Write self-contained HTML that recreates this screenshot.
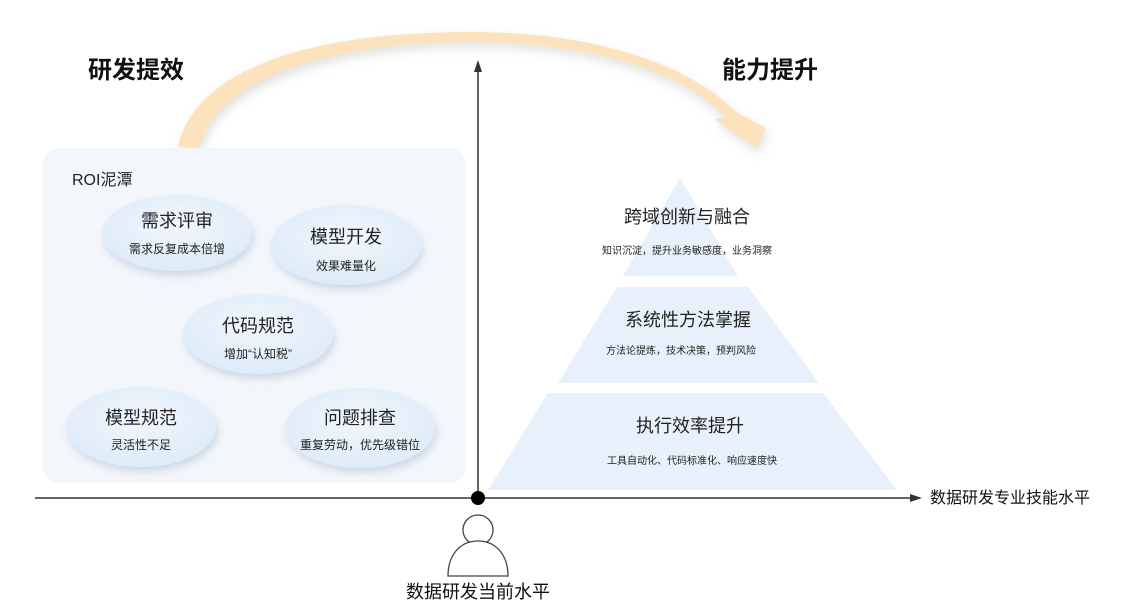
<!DOCTYPE html>
<html><head><meta charset="utf-8"><style>
body{margin:0;background:#fff;}
svg{display:block;font-family:"Liberation Sans","Noto Sans CJK SC",sans-serif;}
</style></head><body>
<svg width="1140" height="610" viewBox="0 0 1140 610">
<defs>
<filter id="sh" x="-30%" y="-30%" width="160%" height="170%"><feDropShadow dx="2" dy="5" stdDeviation="4" flood-color="#8fa0b8" flood-opacity="0.35"/></filter>
<filter id="sh2" x="-20%" y="-30%" width="140%" height="170%"><feDropShadow dx="2" dy="5" stdDeviation="5" flood-color="#999" flood-opacity="0.3"/></filter>
<radialGradient id="eg" cx="50%" cy="40%" r="60%"><stop offset="0" stop-color="#f1f6fd"/><stop offset="1" stop-color="#deebf8"/></radialGradient>
</defs>
<rect x="0" y="0" width="1140" height="610" fill="#fff"/>
<!-- arc arrow -->
<path d="M178 147 C 196 65, 320 32, 470 32 C 600 32, 690 66, 736 112 L 766 128 L 757 148 L 714 119 L 726 118 C 685 72, 590 42, 470 42 C 335 42, 215 78, 200 147 Z" fill="#fde3bd" filter="url(#sh2)"/>
<text x="88" y="78" font-size="24" font-weight="bold" fill="#111">研发提效</text>
<text x="722" y="78" font-size="24" font-weight="bold" fill="#111">能力提升</text>
<!-- left panel -->
<rect x="43" y="148" width="423" height="335" rx="16" fill="#f3f7fc"/>
<text x="72" y="185" font-size="16" fill="#222">ROI泥潭</text>
<g filter="url(#sh)" fill="url(#eg)">
<ellipse cx="177" cy="233" rx="75" ry="38"/>
<ellipse cx="346" cy="245" rx="75" ry="40"/>
<ellipse cx="258" cy="334" rx="75" ry="40"/>
<ellipse cx="141" cy="427" rx="75" ry="40"/>
<ellipse cx="360" cy="428" rx="75" ry="40"/>
</g>
<g text-anchor="middle" fill="#222">
<text x="177" y="227" font-size="18">需求评审</text>
<text x="177" y="253" font-size="12">需求反复成本倍增</text>
<text x="346" y="243" font-size="18">模型开发</text>
<text x="346" y="270" font-size="12">效果难量化</text>
<text x="258" y="332" font-size="18">代码规范</text>
<text x="258" y="358" font-size="12">增加“认知税”</text>
<text x="141" y="424" font-size="18">模型规范</text>
<text x="141" y="449" font-size="12">灵活性不足</text>
<text x="360" y="424" font-size="18">问题排查</text>
<text x="360" y="449" font-size="12">重复劳动，优先级错位</text>
</g>
<!-- pyramid -->
<g fill="#e8f0fb">
<polygon points="680,178 738,276 623,276"/>
<polygon points="617,287 748,287 819,383 558,383"/>
<polygon points="548,393 823,393 897,490 488,490"/>
</g>
<g text-anchor="middle" fill="#222">
<text x="687" y="223" font-size="18">跨域创新与融合</text>
<text x="687" y="254" font-size="10">知识沉淀，提升业务敏感度，业务洞察</text>
<text x="688" y="326" font-size="18">系统性方法掌握</text>
<text x="681" y="354" font-size="10">方法论提炼，技术决策，预判风险</text>
<text x="690" y="432" font-size="18">执行效率提升</text>
<text x="692" y="464" font-size="10">工具自动化、代码标准化、响应速度快</text>
</g>
<!-- axes -->
<line x1="478" y1="70" x2="478" y2="498" stroke="#333" stroke-width="1.5"/>
<polygon points="478,60 474,72 482,72" fill="#333"/>
<line x1="35" y1="498" x2="912" y2="498" stroke="#333" stroke-width="1.5"/>
<polygon points="922,498 910,494 910,502" fill="#333"/>
<circle cx="478" cy="498" r="7" fill="#000"/>
<text x="930" y="503" font-size="16" fill="#111">数据研发专业技能水平</text>
<!-- person -->
<circle cx="478" cy="530" r="15" fill="#fff" stroke="#444" stroke-width="1.3"/>
<path d="M448 576 C 448 555, 460 541, 478 541 C 496 541, 508 555, 508 576 Z" fill="#fff" stroke="#444" stroke-width="1.3"/>
<text x="478" y="598" font-size="18" text-anchor="middle" fill="#111">数据研发当前水平</text>
</svg>
</body></html>
